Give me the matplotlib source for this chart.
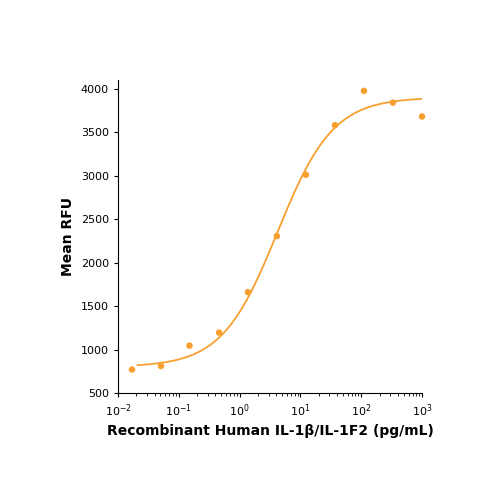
import matplotlib
matplotlib.use("Agg")
import matplotlib.pyplot as plt
import numpy as np

plt.rcParams["font.family"] = ["DejaVu Sans Condensed", "Liberation Sans Narrow", "DejaVu Sans"]

conc = [0.017, 0.051, 0.15, 0.46, 1.37, 4.1, 12.3, 37, 111, 333, 1000]
rfu = [770, 810, 1045, 1195, 1660, 2305, 3010, 3580, 3975, 3840, 3680]

# 4PL curve parameters (estimated)
bottom, top, ec50, hill = 800, 3900, 4.2, 0.95

ORANGE = "#f7a030"

fig = plt.figure(figsize=(5, 5), dpi=100)
ax = fig.add_axes([0.236, 0.214, 0.608, 0.626])

xf = np.logspace(np.log10(0.021), np.log10(1000), 300)
yf = bottom + (top - bottom) / (1 + (ec50 / xf) ** hill)
ax.plot(xf, yf, color=ORANGE, lw=1.3)
ax.scatter(conc, rfu, color=ORANGE, s=22, zorder=3, edgecolors="none", clip_on=False)

ax.set_xscale("log")
ax.set_xlim(0.01, 1000)
ax.set_ylim(500, 4100)
ax.set_yticks(range(500, 4001, 500))
ax.spines["top"].set_visible(False)
ax.spines["right"].set_visible(False)
ax.tick_params(labelsize=8, direction="out", length=3)
ax.set_xlabel("Recombinant Human IL-1β/IL-1F2 (pg/mL)", fontsize=10, fontweight="bold")
ax.set_ylabel("Mean RFU", fontsize=10, fontweight="bold")

fig.savefig("out.png")
